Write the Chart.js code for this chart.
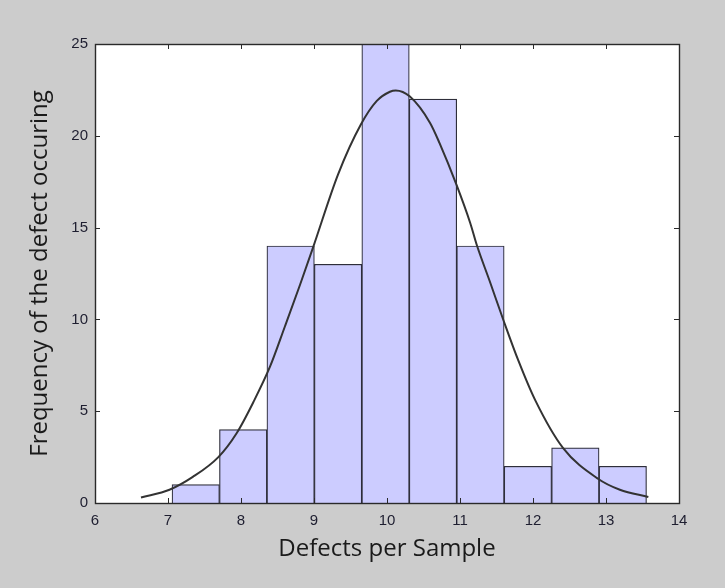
<!DOCTYPE html>
<html>
<head>
<meta charset="utf-8">
<script src="https://cdn.jsdelivr.net/npm/chart.js@4"></script>
<style>
  html, body { margin: 0; padding: 0; background: #cccccc; }
  #c { display: block; }
</style>
</head>
<body>
<canvas id="c" width="725" height="588"></canvas>
<script>
// Histogram bins (centers) and counts
const binCenters = [7.38, 8.03, 8.68, 9.33, 9.98, 10.63, 11.28, 11.93, 12.58, 13.23];
const binCounts  = [1, 4, 14, 13, 25, 22, 14, 2, 3, 2];

// Fitted curve
const curveX = [6.63, 7.02, 7.34, 7.69, 7.94, 8.17, 8.4, 8.6, 8.81, 8.99, 9.33, 9.64, 9.86, 10.04, 10.12, 10.31, 10.59, 10.72, 10.95, 11.14, 11.23, 11.41, 11.6, 11.8, 12.03, 12.41, 12.89, 13.19, 13.58];
const curveY = [0.3, 0.72, 1.42, 2.5, 3.8, 5.5, 7.45, 9.6, 11.9, 13.95, 17.9, 20.6, 21.9, 22.4, 22.47, 22.15, 20.7, 19.6, 17.35, 15.25, 14.05, 12.05, 9.9, 7.75, 5.6, 3.0, 1.32, 0.72, 0.33];

const xTicks = [6, 7, 8, 9, 10, 11, 12, 13, 14];
const yTicks = [0, 5, 10, 15, 20, 25];

const xTitle = 'Defects per Sample';
const yTitle = 'Frequency of the defect occuring';

const framePlugin = {
  id: 'frame',
  beforeDraw(chart) {
    const ctx = chart.ctx, a = chart.chartArea;
    ctx.save();
    ctx.fillStyle = '#cccccc';
    ctx.fillRect(0, 0, chart.width, chart.height);
    ctx.fillStyle = '#ffffff';
    ctx.fillRect(a.left, a.top, a.right - a.left, a.bottom - a.top);
    ctx.restore();
  },
  afterDatasetsDraw(chart) {
    const ctx = chart.ctx, a = chart.chartArea;
    const xs = chart.scales.x, ys = chart.scales.y;
    ctx.save();
    ctx.strokeStyle = '#2a2a2a';
    ctx.lineWidth = 1;
    ctx.beginPath();
    const L = 5;
    xTicks.forEach(v => {
      const px = Math.round(xs.getPixelForValue(v)) + 0.5;
      ctx.moveTo(px, a.bottom); ctx.lineTo(px, a.bottom - L);
      ctx.moveTo(px, a.top); ctx.lineTo(px, a.top + L);
    });
    yTicks.forEach(v => {
      const py = Math.round(ys.getPixelForValue(v)) + 0.5;
      ctx.moveTo(a.left, py); ctx.lineTo(a.left + L, py);
      ctx.moveTo(a.right, py); ctx.lineTo(a.right - L, py);
    });
    ctx.stroke();
    ctx.lineWidth = 1.4;
    ctx.strokeRect(Math.round(a.left) + 0.5, Math.round(a.top) + 0.5,
                   Math.round(a.right - a.left), Math.round(a.bottom - a.top));
    ctx.restore();
  }
};

new Chart(document.getElementById('c'), {
  type: 'bar',
  data: {
    datasets: [
      {
        type: 'line',
        order: 0,
        data: curveX.map((x, i) => ({ x: x, y: curveY[i] })),
        borderColor: '#333333',
        borderWidth: 2,
        pointRadius: 0,
        cubicInterpolationMode: 'monotone',
        fill: false
      },
      {
        type: 'bar',
        order: 1,
        data: binCenters.map((x, i) => ({ x: x, y: binCounts[i] })),
        backgroundColor: '#ccccff',
        borderColor: '#2e2e3a',
        borderWidth: 1.2,
        barPercentage: 1,
        categoryPercentage: 1
      }
    ]
  },
  options: {
    responsive: false,
    devicePixelRatio: 1,
    animation: false,
    layout: { padding: { top: 44, right: 46, left: 0, bottom: 0 } },
    plugins: { legend: { display: false }, tooltip: { enabled: false } },
    scales: {
      x: {
        type: 'linear',
        min: 6, max: 14,
        offset: false,
        afterFit(s) { s.height = 85; },
        afterBuildTicks(s) { s.ticks = xTicks.map(v => ({ value: v })); },
        grid: { display: false, drawTicks: false, tickLength: 0 },
        border: { display: false },
        ticks: {
          padding: 9,
          color: '#1e1e30',
          font: { family: 'Liberation Sans', size: 15 },
          maxRotation: 0
        },
        title: {
          display: true,
          text: xTitle,
          color: '#1a1a1a',
          font: { family: 'Open Sans', size: 24 },
          padding: { top: 0, bottom: 24 }
        }
      },
      y: {
        type: 'linear',
        min: 0, max: 25,
        afterFit(s) { s.width = 95; },
        afterBuildTicks(s) { s.ticks = yTicks.map(v => ({ value: v })); },
        grid: { display: false, drawTicks: false, tickLength: 0 },
        border: { display: false },
        ticks: {
          padding: 7,
          color: '#1e1e30',
          font: { family: 'Liberation Sans', size: 15 }
        },
        title: {
          display: true,
          text: yTitle,
          color: '#1a1a1a',
          font: { family: 'Open Sans', size: 24 },
          padding: { top: 26, bottom: 0 }
        }
      }
    }
  },
  plugins: [framePlugin]
});
</script>
</body>
</html>
